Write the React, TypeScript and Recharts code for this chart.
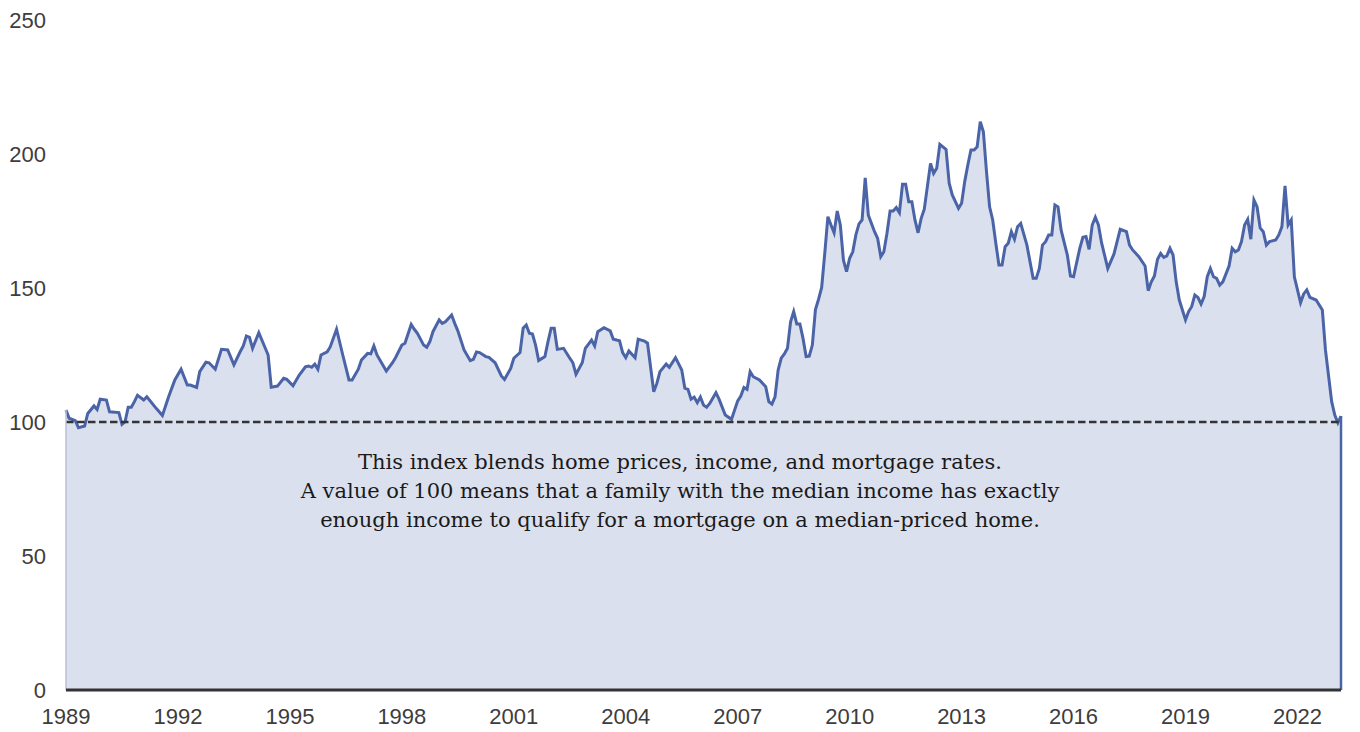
import { AreaChart, Area, XAxis, YAxis, ReferenceLine } from "recharts";

const START_YEAR = 1989;
const YEAR_TICKS = [1989, 1992, 1995, 1998, 2001, 2004, 2007, 2010, 2013, 2016, 2019, 2022];
const VALUE_TICKS = [0, 50, 100, 150, 200, 250];
const BREAK_EVEN = 100;

const NOTE_LINES = [
  "This index blends home prices, income, and mortgage rates.",
  "A value of 100 means that a family with the median income has exactly",
  "enough income to qualify for a mortgage on a median-priced home.",
];

// months counted from Jan 1989
const MONTHS_1989_1998 = [
  0, 1, 3, 4, 6, 7, 9, 10, 11, 13, 14, 17, 18, 19, 20, 21, 22, 23, 25, 26, 29, 31, 33, 35, 37, 39, 40, 42, 43, 45,
  46, 48, 50, 52, 54, 56, 57, 58, 59, 60, 62, 65, 66, 68, 70, 71, 73, 75, 77, 78, 79, 80, 81, 82, 84, 85, 87, 89,
  91, 92, 94, 95, 97, 98, 99, 100, 103, 105, 106, 108, 109, 111, 112, 113, 115, 116, 117, 118,
];
const INDEX_1989_1998 = [
  104.5, 101.4, 100.5, 97.9, 98.5, 103.2, 106, 104.7, 108.5, 108.2, 103.8, 103.5, 99.1, 100.1, 105.5, 105.5, 107.6,
  110, 108.2, 109.4, 105.1, 102.4, 109.4, 115.7, 119.7, 113.8, 113.8, 112.9, 118.8, 122.3, 122.1, 119.7, 127.1,
  126.9, 121.3, 126.2, 128.4, 132.1, 131.6, 127.5, 133.3, 125, 113, 113.4, 116.3, 115.9, 113.5, 117.5, 120.6, 120.9,
  120.4, 121.6, 119.7, 125, 126.2, 128.1, 134.6, 125, 115.7, 115.7, 119.7, 123.1, 125.6, 125.4, 128.4, 125, 119,
  122.1, 124.1, 128.7, 129.4, 136.4, 134.6, 133.1, 128.7, 127.9, 130, 133.7,
];

const MONTHS_1999_2008 = [
  120, 121, 122, 124, 125, 126, 128, 130, 131, 132, 133, 135, 136, 138, 140, 141, 143, 144, 146, 147, 148, 149, 150,
  151, 152, 154, 155, 156, 157, 158, 160, 162, 163, 164, 166, 167, 169, 170, 171, 173, 175, 176, 178, 179, 180, 181,
  183, 184, 186, 187, 189, 190, 191, 193, 194, 196, 198, 199, 200, 201, 202, 203, 204, 205, 206, 207, 209, 210, 212,
  214, 216, 217, 218, 219, 220, 221, 223, 225, 226, 227, 228, 229, 230, 231, 232, 233, 234, 235, 236, 237, 238, 239,
];
const INDEX_1999_2008 = [
  138.1, 136.8, 137.4, 139.9, 136.8, 134, 126.9, 122.9, 123.4, 126.1, 125.9, 124.4, 124.1, 122.1, 117.2, 115.9, 120,
  123.8, 125.9, 135, 136.2, 133.1, 132.8, 128.7, 122.9, 124.4, 130, 135, 135, 127.1, 127.5, 123.8, 122.1, 117.8,
  122.1, 127.5, 130.6, 128.4, 133.7, 135.2, 134, 130.9, 130.3, 125.9, 124, 126.5, 124, 130.9, 130.2, 129.4, 111.3,
  114.4, 118.8, 121.6, 120.4, 124, 119.4, 112.6, 112.2, 108.5, 109.3, 107.2, 109.3, 106.3, 105.5, 106.9, 110.9, 108.5,
  102.6, 101, 107.9, 109.7, 112.9, 112.2, 118.8, 116.9, 115.7, 113.2, 107.6, 106.7, 109.4, 119.4, 123.8, 125.4,
  127.5, 137.4, 141.2, 136.6, 136.6, 131.2, 124.4, 124.6,
];

const MONTHS_2009_2023 = [
  240, 241, 242, 243, 244, 245, 246, 247, 248, 249, 250, 251, 252, 253, 254, 255, 256, 257, 258, 260, 261, 262, 263,
  264, 265, 266, 267, 268, 269, 270, 271, 272, 273, 274, 275, 276, 278, 279, 280, 281, 283, 284, 285, 287, 288, 289,
  290, 291, 292, 293, 294, 295, 296, 297, 298, 299, 300, 301, 302, 303, 304, 305, 306, 307, 309, 311, 312, 313, 314,
  315, 316, 317, 318, 319, 320, 322, 323, 324, 326, 327, 328, 329, 330, 331, 332, 333, 335, 337, 338, 339, 341, 342,
  343, 345, 347, 348, 349, 350, 351, 352, 353, 354, 355, 356, 357, 358, 360, 361, 362, 363, 364, 365, 366, 367, 368,
  369, 370, 371, 372, 374, 375, 376, 377, 378, 379, 380, 381, 382, 383, 384, 385, 386, 387, 389, 390, 391, 392, 393,
  394, 395, 397, 398, 399, 400, 402, 404, 405, 407, 408, 409, 410,
];
const INDEX_2009_2023 = [
  128.7, 142, 145.8, 150.2, 163, 176.6, 173.5, 170.6, 178.7, 173.5, 160.4, 156.1, 161.1, 163.5, 169.8, 173.9, 175.4,
  191.1, 177.2, 171, 168.5, 161.7, 163.5, 170.4, 178.7, 178.7, 180, 178.1, 188.7, 188.7, 182.2, 182.2, 175.4, 170.6,
  176, 179.4, 196.5, 192.8, 194.7, 203.6, 201.7, 189.1, 184.7, 179.7, 181.6, 189.7, 195.9, 201.5, 201.5, 202.7, 212.1,
  208.3, 193.4, 180.3, 175.4, 166.7, 158.6, 158.6, 165.4, 166.7, 171, 168.2, 172.9, 174.1, 166, 153.6, 153.6, 157.3,
  166, 167.3, 169.8, 169.8, 181, 180.3, 171.6, 162.3, 154.5, 154.2, 164.8, 168.9, 169.2, 164.4, 173.5, 176.4, 173.5,
  166.9, 157.3, 162.7, 167.3, 171.9, 171, 166, 164.2, 161.7, 158.2, 149, 152.3, 154.5, 160.7, 162.9, 161.4, 162,
  164.8, 162.3, 152.3, 145.5, 138.1, 141.2, 143.1, 147.4, 146.5, 144, 146.8, 154.2, 157.3, 154.2, 153.6, 151.1, 152.3,
  158.2, 164.8, 163.5, 164.2, 167.3, 173.5, 175.6, 168.2, 182.8, 180.3, 172.4, 171, 166, 167.3, 167.9, 169.8, 172.9,
  188.1, 173.5, 175.4, 154.2, 144.5, 147.8, 149.3, 146.5, 145.5, 141.8, 126.9, 107.6, 102.6, 99.7, 102.2,
];

const months = [...MONTHS_1989_1998, ...MONTHS_1999_2008, ...MONTHS_2009_2023];
const values = [...INDEX_1989_1998, ...INDEX_1999_2008, ...INDEX_2009_2023];
const data = months.map((m, i) => ({ m, value: values[i] }));
const first = data[0];
const last = data[data.length - 1];

const LINE = "#4a64a7";
const FILL = "#dbe0ee";
const INK = "#3d3d3d";
const tickStyle = { fontFamily: "'Liberation Sans', Arial, sans-serif", fontSize: 22, fill: INK };

export default function App() {
  return (
    <div style={{ position: "absolute", left: 0, top: 0, width: 1360, height: 732, background: "#fff" }}>
      <AreaChart width={1360} height={732} data={data} margin={{ top: 20, right: 19, bottom: 12, left: 0 }}>
        <XAxis
          dataKey="m"
          type="number"
          domain={[0, last.m]}
          ticks={YEAR_TICKS.map((y) => (y - START_YEAR) * 12)}
          tickFormatter={(m: number) => String(START_YEAR + Math.round(m / 12))}
          interval={0}
          height={30}
          tickLine={false}
          tickSize={0}
          tickMargin={18}
          axisLine={{ stroke: "#333", strokeWidth: 3 }}
          tick={tickStyle}
        />
        <YAxis
          domain={[0, 250]}
          ticks={VALUE_TICKS}
          width={66}
          axisLine={false}
          tickLine={false}
          tickSize={0}
          tickMargin={20}
          tick={tickStyle}
        />
        <Area
          type="linear"
          dataKey="value"
          stroke={LINE}
          strokeWidth={3}
          fill={FILL}
          fillOpacity={1}
          dot={false}
          activeDot={false}
          isAnimationActive={false}
        />
        <ReferenceLine y={BREAK_EVEN} stroke="#333" strokeWidth={2.5} strokeDasharray="7.5 3.5" />
        <ReferenceLine
          segment={[
            { x: first.m, y: 0 },
            { x: first.m, y: first.value },
          ]}
          stroke="#b9c2dc"
          strokeWidth={1.5}
        />
        <ReferenceLine
          segment={[
            { x: last.m, y: 0 },
            { x: last.m, y: last.value },
          ]}
          stroke={LINE}
          strokeWidth={2.5}
        />
      </AreaChart>
      <div
        style={{
          position: "absolute",
          left: 230,
          top: 448,
          width: 900,
          textAlign: "center",
          fontFamily: "'DejaVu Serif', Georgia, serif",
          fontSize: 21,
          lineHeight: "29px",
          color: "#1a1a1a",
        }}
      >
        {NOTE_LINES.map((line) => (
          <div key={line}>{line}</div>
        ))}
      </div>
    </div>
  );
}
